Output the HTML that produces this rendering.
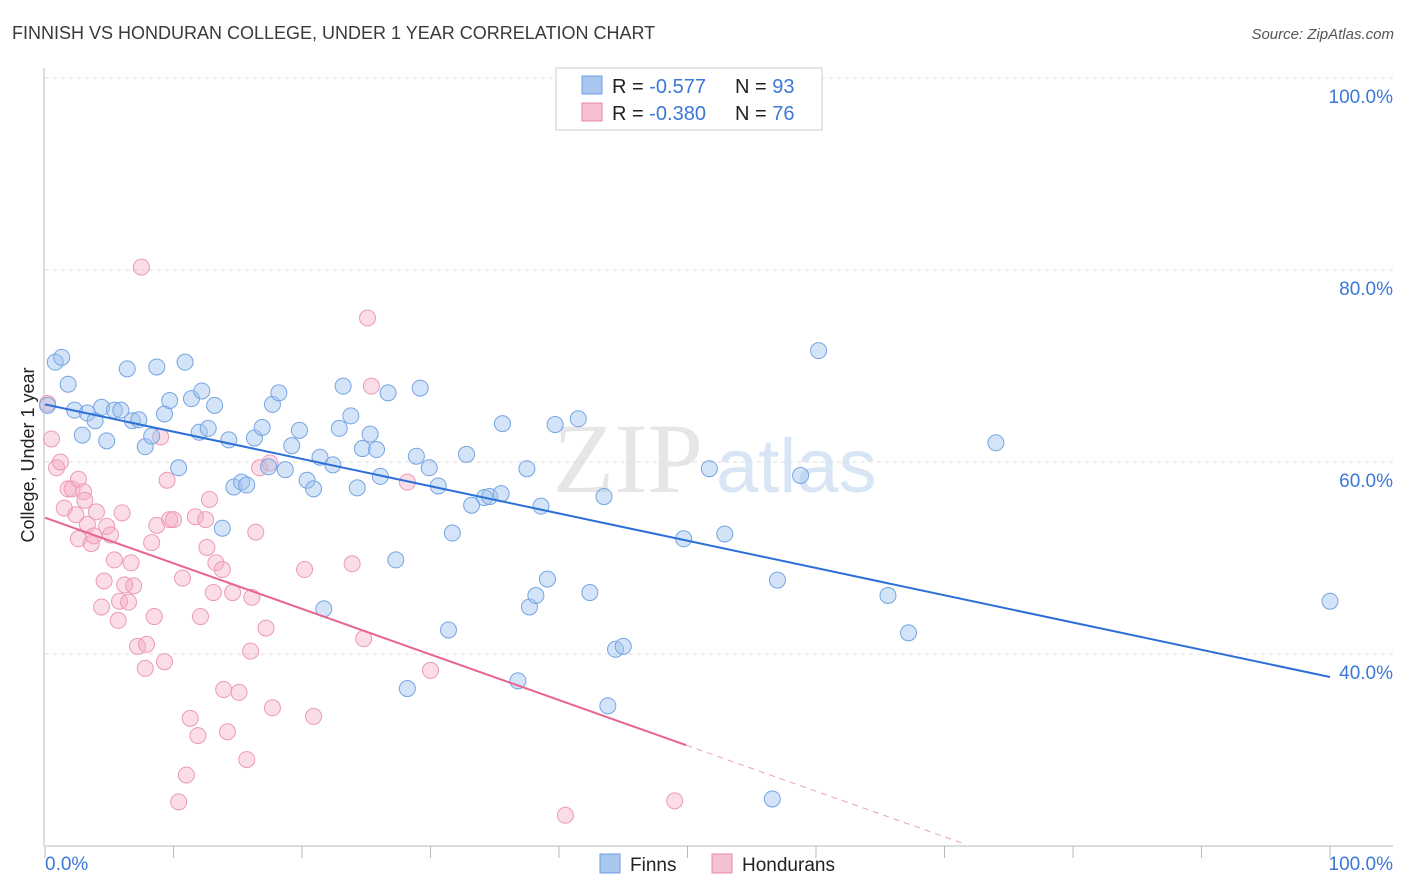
<!DOCTYPE html>
<html><head><meta charset="utf-8"><style>
body{margin:0;background:#fff;font-family:"Liberation Sans",sans-serif}
svg{display:block}
</style></head><body>
<svg id="chart" width="1406" height="892">
<text x="12" y="39" font-size="18" fill="#3a3a3a">FINNISH VS HONDURAN COLLEGE, UNDER 1 YEAR CORRELATION CHART</text>
<text x="1394" y="39" font-size="15" fill="#555" text-anchor="end" font-style="italic">Source: ZipAtlas.com</text>
<text x="553" y="492" font-size="100" fill="#e6e6e6" font-family="Liberation Serif,serif">ZIP</text>
<text x="716" y="492" font-size="76" fill="#d7e5f5">atlas</text>
<g id="grid"></g><g id="pts"></g><g id="trends"></g>
<text transform="translate(34,455) rotate(-90)" font-size="18" fill="#222" text-anchor="middle">College, Under 1 year</text>
<g>
<rect x="556" y="68" width="266" height="62" fill="#fff" stroke="#ccc"/>
<rect x="582" y="76" width="20" height="18" fill="#a9c7ee" stroke="#6d9ee0"/>
<text x="612" y="93" font-size="20" fill="#222">R = <tspan fill="#3b78d8">-0.577</tspan></text>
<text x="735" y="93" font-size="20" fill="#222">N = <tspan fill="#3b78d8">93</tspan></text>
<rect x="582" y="103" width="20" height="18" fill="#f5c0d0" stroke="#e88aa8"/>
<text x="612" y="120" font-size="20" fill="#222">R = <tspan fill="#3b78d8">-0.380</tspan></text>
<text x="735" y="120" font-size="20" fill="#222">N = <tspan fill="#3b78d8">76</tspan></text>
</g>
<g>
<rect x="600" y="854" width="20" height="19" fill="#a9c7ee" stroke="#6d9ee0"/>
<text x="630" y="871" font-size="19" fill="#222">Finns</text>
<rect x="712" y="854" width="20" height="19" fill="#f5c0d0" stroke="#e88aa8"/>
<text x="742" y="871" font-size="19" fill="#222">Hondurans</text>
</g>
</svg>
<script>
const yTicks=[40,60,80,100];
const yTickLabels=["40.0%","60.0%","80.0%","100.0%"];
const xTickLabels=["0.0%","100.0%"];
const finnX=[0.2,0.8,1.3,1.8,2.3,2.9,3.3,3.9,4.4,4.8,5.4,5.9,6.4,6.8,7.3,7.8,8.3,8.7,9.3,9.7,10.4,10.9,11.4,12.0,12.2,12.7,13.2,13.8,14.3,14.7,15.3,15.7,16.3,16.9,17.4,17.7,18.2,18.7,19.2,19.8,20.4,20.9,21.4,21.7,22.4,22.9,23.2,23.8,24.3,24.7,25.3,25.8,26.1,26.7,27.3,28.2,28.9,29.2,29.9,30.6,31.4,31.7,32.8,33.2,34.2,34.6,35.5,35.6,36.8,37.5,37.7,38.2,38.6,39.1,39.7,41.5,42.4,43.5,43.8,44.4,45.0,49.7,51.7,52.9,56.6,57.0,58.8,60.2,65.6,67.2,74.0,100];
const finnY=[65.9,70.4,70.9,68.1,65.4,62.8,65.1,64.3,65.7,62.2,65.4,65.4,69.7,64.3,64.4,61.6,62.7,69.9,65.0,66.4,59.4,70.4,66.6,63.1,67.4,63.5,65.9,53.1,62.3,57.4,57.9,57.6,62.5,63.6,59.5,66.0,67.2,59.2,61.7,63.3,58.1,57.2,60.5,44.7,59.7,63.5,67.9,64.8,57.3,61.4,62.9,61.3,58.5,67.2,49.8,36.4,60.6,67.7,59.4,57.5,42.5,52.6,60.8,55.5,56.3,56.4,56.7,64.0,37.2,59.3,44.9,46.1,55.4,47.8,63.9,64.5,46.4,56.4,34.6,40.5,40.8,52.0,59.3,52.5,24.9,47.7,58.6,71.6,46.1,42.2,62.0,45.5];
const hondX=[0.2,0.5,0.9,1.2,1.5,1.8,2.1,2.4,2.6,2.6,3.0,3.1,3.3,3.6,3.8,4.0,4.4,4.6,4.8,5.1,5.4,5.7,5.8,6.0,6.2,6.5,6.7,6.9,7.2,7.5,7.8,7.9,8.3,8.5,8.7,9.0,9.3,9.5,9.7,10.0,10.4,10.7,11.0,11.3,11.7,11.9,12.1,12.5,12.6,12.8,13.1,13.3,13.8,13.9,14.2,14.6,15.1,15.7,16.0,16.1,16.4,16.7,17.2,17.5,17.7,20.2,20.9,23.9,24.8,25.1,25.4,28.2,30.0,40.5,49.0];
const hondY=[66.1,62.4,59.4,60.0,55.2,57.2,57.2,54.5,52.0,58.2,56.9,56.0,53.5,51.5,52.3,54.8,44.9,47.6,53.3,52.4,49.8,43.5,45.5,54.7,47.2,45.4,49.5,47.1,40.8,80.3,38.5,41.0,51.6,43.9,53.4,62.6,39.2,58.1,54.0,54.0,24.6,47.9,27.4,33.3,54.3,31.5,43.9,54.0,51.1,56.1,46.4,49.5,48.8,36.3,31.9,46.4,36.0,29.0,40.3,45.9,52.7,59.4,42.7,59.9,34.4,48.8,33.5,49.4,41.6,75.0,67.9,57.9,38.3,23.2,24.7];
const finnTrend=[[0,66.0],[100,37.6]];
const hondTrend=[[0,54.2],[49.9,30.5]];
const hondTrendExt=[[49.9,30.5],[71.6,20.2]];
const X=v=>45+v*12.85, Y=v=>846-(v-20)*9.6;
const NS="http://www.w3.org/2000/svg";
function mk(tag,at,parent){const e=document.createElementNS(NS,tag);for(const k in at)e.setAttribute(k,at[k]);document.getElementById(parent).appendChild(e);return e;}
yTicks.forEach((t,i)=>{
 const g=mk('line',{x1:45,x2:1393,y1:Y(t),y2:Y(t),stroke:'#ddd','stroke-dasharray':'4,4'},'grid');
 
 
 const l=mk('text',{x:1393,y:Y(t)+25,'font-size':19,fill:'#3b78d8','text-anchor':'end'},'grid');l.textContent=yTickLabels[i];
 
 
});
const ax=mk('line',{x1:45,x2:1393,y1:846,y2:846,stroke:'#bbb'},'grid');


const ay=mk('line',{x1:44,x2:44,y1:68,y2:846,stroke:'#bbb'},'grid');


for(let i=0;i<=10;i++){const t=mk('line',{x1:X(i*10),x2:X(i*10),y1:846,y2:858,stroke:'#bbb'},'grid');
 
 }
const xl0=mk('text',{x:45,y:870,'font-size':19,fill:'#3b78d8'},'grid');xl0.textContent=xTickLabels[0];


const xl1=mk('text',{x:1393,y:870,'font-size':19,fill:'#3b78d8','text-anchor':'end'},'grid');xl1.textContent=xTickLabels[1];


hondX.forEach((x,i)=>{const c=mk('circle',{cx:X(x),cy:Y(hondY[i]),r:8,fill:'rgba(245,170,195,0.4)',stroke:'#ec9ab5','stroke-width':1},'pts');
 
 });
finnX.forEach((x,i)=>{const c=mk('circle',{cx:X(x),cy:Y(finnY[i]),r:8,fill:'rgba(160,195,240,0.45)',stroke:'#76a4e2','stroke-width':1},'pts');
 
 });
const bl=mk('line',{x1:X(finnTrend[0][0]),y1:Y(finnTrend[0][1]),x2:X(finnTrend[1][0]),y2:Y(finnTrend[1][1]),stroke:'#2c6fd6','stroke-width':2},'trends');


const pl=mk('line',{x1:X(hondTrend[0][0]),y1:Y(hondTrend[0][1]),x2:X(hondTrend[1][0]),y2:Y(hondTrend[1][1]),stroke:'#e8648f','stroke-width':2},'trends');


const pd=mk('line',{x1:X(hondTrendExt[0][0]),y1:Y(hondTrendExt[0][1]),x2:X(hondTrendExt[1][0]),y2:Y(hondTrendExt[1][1]),stroke:'#e8a0b8','stroke-width':1,'stroke-dasharray':'6,5'},'trends');


</script>
</body></html>
